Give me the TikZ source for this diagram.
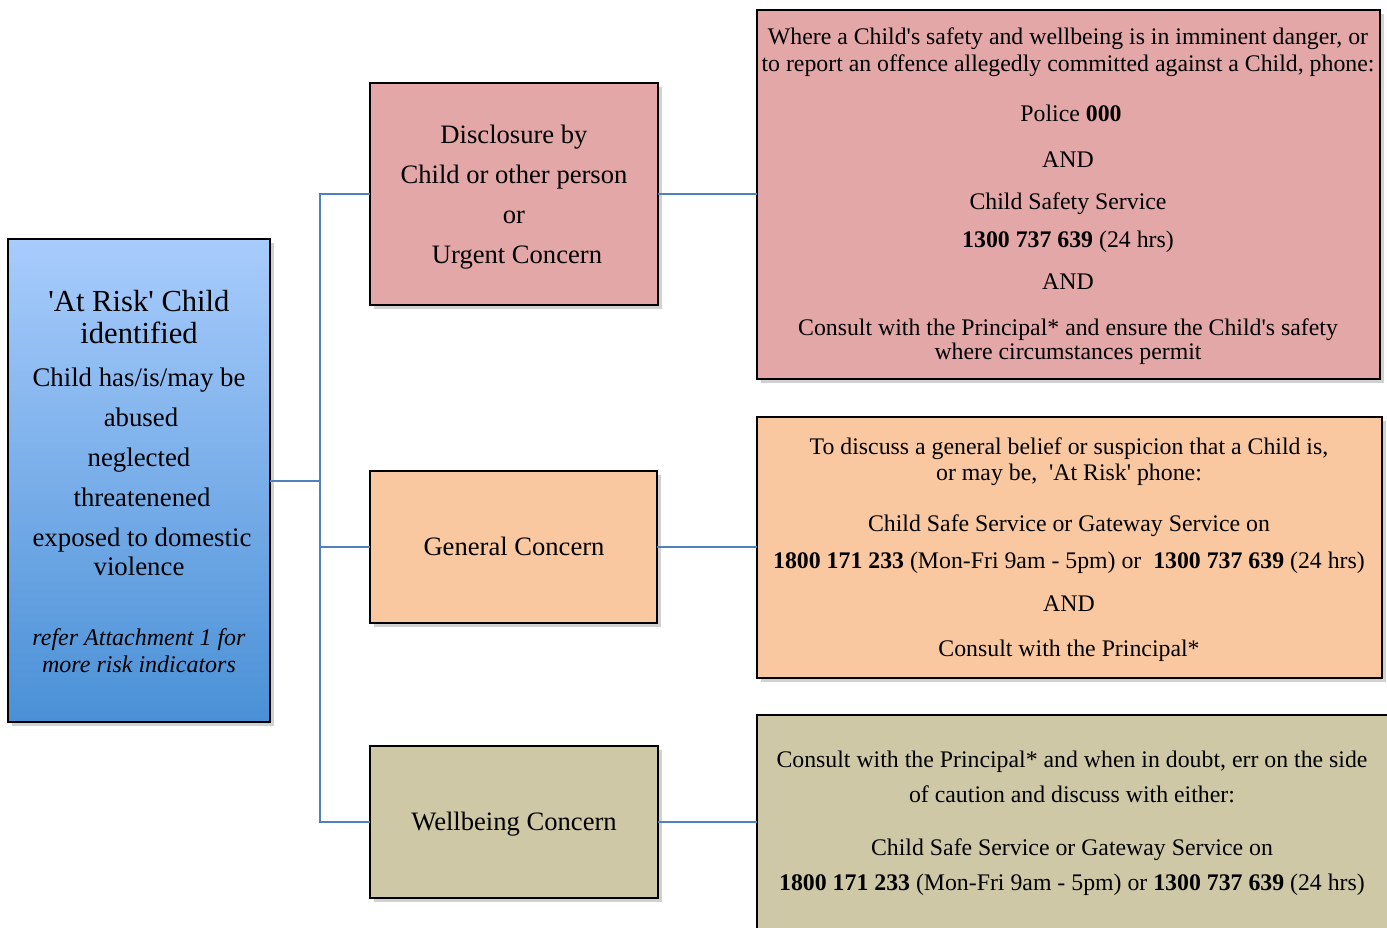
\documentclass[tikz,border=0pt]{standalone}
\usepackage{fontspec}
\setmainfont{Liberation Serif}[Ligatures=TeXOff]
\usetikzlibrary{shadows}
\definecolor{pinkfill}{RGB}{226,167,166}
\definecolor{peachfill}{RGB}{250,200,160}
\definecolor{khakifill}{RGB}{206,200,166}
\definecolor{bluetop}{RGB}{168,204,252}
\definecolor{bluebot}{RGB}{74,144,214}
\definecolor{connblue}{RGB}{79,129,189}
\tikzset{
  box/.style={draw=black, line width=1pt, drop shadow={shadow xshift=2pt, shadow yshift=-2pt, opacity=0.3, fill=black!60}},
  conn/.style={draw=connblue, line width=0.8pt},
  rt/.style={anchor=base, inner sep=0pt, font=\fontsize{11.9}{13}\selectfont},
  mt/.style={anchor=base, inner sep=0pt, font=\fontsize{13.3}{15}\selectfont},
  lt/.style={anchor=base, inner sep=0pt, font=\fontsize{13.4}{15}\selectfont},
  ht/.style={anchor=base, inner sep=0pt, font=\fontsize{15.3}{17}\selectfont},
  it/.style={anchor=base, inner sep=0pt, font=\fontsize{12}{13}\selectfont\itshape},
}
\begin{document}
\begin{tikzpicture}[x=0.5pt,y=-0.5pt]
\useasboundingbox (0,0) rectangle (1387,927);
% boxes
\path[box, top color=bluetop, bottom color=bluebot] (8,239) rectangle (270,722);
\node[inner sep=0pt, minimum width=131pt, minimum height=241.5pt] (L) at (139,480.5) {};
\path[box, fill=pinkfill] (370,83) rectangle (658,305);
\node[inner sep=0pt, minimum width=144pt, minimum height=111pt] (M1) at (514,194) {};
\path[box, fill=peachfill] (370,471) rectangle (657,623);
\node[inner sep=0pt, minimum width=143.5pt, minimum height=76pt] (M2) at (513.5,547) {};
\path[box, fill=khakifill] (370,746) rectangle (658,898);
\node[inner sep=0pt, minimum width=144pt, minimum height=76pt] (M3) at (514,822) {};
\path[box, fill=pinkfill] (757,10) rectangle (1380,379);
\node[inner sep=0pt, minimum width=311.5pt, minimum height=184.5pt] (R1) at (1068.5,194.5) {};
\path[box, fill=peachfill] (757,417) rectangle (1382,678);
\node[inner sep=0pt, minimum width=312.5pt, minimum height=130.5pt] (R2) at (1069.5,547.5) {};
\path[box, fill=khakifill] (757,715) rectangle (1390,960);
\node[inner sep=0pt, minimum width=316.5pt, minimum height=122.5pt] (R3) at (1073.5,837.5) {};
% connectors
\coordinate (bus) at (320,481);
\draw[conn] (L.east |- bus) -- (bus);
\draw[conn] (M1.west) -- (M1.west -| bus) -- (M3.west -| bus) -- (M3.west);
\draw[conn] (M2.west) -- (M2.west -| bus);
\draw[conn] (M1.east) -- (M1.east -| R1.west);
\draw[conn] (M2.east) -- (M2.east -| R2.west);
\draw[conn] (M3.east) -- (M3.east -| R3.west);
% left text
\node[ht] (l1) at (139,311) {'At Risk' Child};
\node[ht] (l2) at (139,343) {identified};
\node[lt] (l3) at (139,386) {Child has/is/may be};
\node[lt] (l4) at (141,426) {abused};
\node[lt] (l5) at (139,466) {neglected};
\node[lt] (l6) at (142,506) {threatenened};
\node[lt] (l7) at (142,546) {exposed to domestic};
\node[lt] (l8) at (139,575) {violence};
\node[it] (l9) at (139,645) {refer Attachment 1 for};
\node[it] (l10) at (139,672) {more risk indicators};
% middle text
\node[mt] (m1a) at (514,143) {Disclosure by};
\node[mt] (m1b) at (514,183) {Child or other person};
\node[mt] (m1c) at (514,223) {or};
\node[mt] (m1d) at (517,263) {Urgent Concern};
\node[mt] (m2a) at (514,555) {General Concern};
\node[mt] (m3a) at (514,830) {Wellbeing Concern};
% right 1
\node[rt] (r1a) at (1068,44) {Where a Child's safety and wellbeing is in imminent danger, or};
\node[rt] (r1b) at (1068,71) {to report an offence allegedly committed against a Child, phone:};
\node[rt] (r1c) at (1071,121) {Police \textbf{000}};
\node[rt] (r1d) at (1068,167) {AND};
\node[rt] (r1e) at (1068,209) {Child Safety Service};
\node[rt] (r1f) at (1068,247) {\textbf{1300 737 639} (24 hrs)};
\node[rt] (r1g) at (1068,289) {AND};
\node[rt] (r1h) at (1068,335) {Consult with the Principal* and ensure the Child's safety};
\node[rt] (r1i) at (1068,359) {where circumstances permit};
% right 2
\node[rt] (r2a) at (1069,454) {To discuss a general belief or suspicion that a Child is,};
\node[rt] (r2b) at (1069,480) {or may be,\ \ 'At Risk' phone:};
\node[rt] (r2c) at (1069,531) {Child Safe Service or Gateway Service on};
\node[rt] (r2d) at (1069,568) {\textbf{1800 171 233} (Mon-Fri 9am - 5pm) or\ \ \textbf{1300 737 639} (24 hrs)};
\node[rt] (r2e) at (1069,611) {AND};
\node[rt] (r2f) at (1069,656) {Consult with the Principal*};
% right 3
\node[rt] (r3a) at (1072,767) {Consult with the Principal* and when in doubt, err on the side};
\node[rt] (r3b) at (1072,802) {of caution and discuss with either:};
\node[rt] (r3c) at (1072,855) {Child Safe Service or Gateway Service on};
\node[rt] (r3d) at (1072,890) {\textbf{1800 171 233} (Mon-Fri 9am - 5pm) or \textbf{1300 737 639} (24 hrs)};
\end{tikzpicture}
\end{document}
